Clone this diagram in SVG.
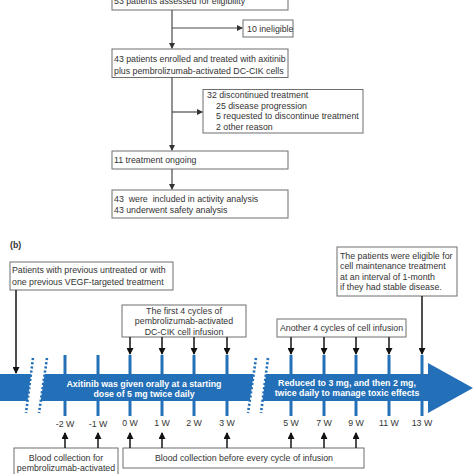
<svg xmlns="http://www.w3.org/2000/svg" width="474" height="474" viewBox="0 0 474 474">
<style>
text{font-family:"Liberation Sans",Arial,sans-serif;font-size:8.8px;fill:#333;white-space:pre}
.box{fill:#fff;stroke:#6e6e6e;stroke-width:1}
.ln{fill:none;stroke:#4a4a4a;stroke-width:1.2}
.bk{fill:none;stroke:#222;stroke-width:1.6}
.c{text-anchor:middle}
.w{fill:#fff;font-weight:bold}
.tick{stroke:#2470b8;stroke-width:3}
.dot{stroke:#2470b8;stroke-width:2.6;stroke-dasharray:2.2 2}
.bar{fill:#2470b8}
</style>
<defs>
<marker id="ah" markerWidth="6" markerHeight="6" refX="5" refY="3" orient="auto" markerUnits="userSpaceOnUse">
<path d="M0,0 L6,3 L0,6 z" fill="#333"/>
</marker>
<marker id="ak" markerWidth="7" markerHeight="7" refX="6" refY="3.5" orient="auto" markerUnits="userSpaceOnUse">
<path d="M0,0 L7,3.5 L0,7 z" fill="#111"/>
</marker>
</defs>

<!-- (a) flowchart -->
<g id="n-assessed"><rect class="box" x="112" y="-10" width="176" height="20"/><text x="114" y="4">53 patients assessed for eligibility</text></g>
<g id="n-ineligible"><rect class="box" x="243" y="20" width="50" height="17"/><text x="247" y="31.5">10 ineligible</text></g>
<g id="n-enrolled"><rect class="box" x="112" y="49" width="176" height="28.5"/><text x="114" y="61.5">43 patients enrolled and treated with axitinib</text><text x="114" y="73.5">plus pembrolizumab-activated DC-CIK cells</text></g>
<g id="n-discontinued"><rect class="box" x="203" y="89.5" width="160" height="43.5"/><text x="207" y="98">32 discontinued treatment</text><text x="216" y="108.5">25 disease progression</text><text x="216" y="119">5 requested to discontinue treatment</text><text x="216" y="129.5">2 other reason</text></g>
<g id="n-ongoing"><rect class="box" x="112" y="151" width="176" height="18"/><text x="114" y="162.5">11 treatment ongoing</text></g>
<g id="n-analysis"><rect class="box" x="112" y="190" width="176" height="28"/><text x="114" y="202" xml:space="preserve">43  were  included in activity analysis</text><text x="114" y="213">43 underwent safety analysis</text></g>

<!-- (b) timeline -->
<text x="10" y="248" style="font-weight:bold">(b)</text>
<g id="n-patients"><rect class="box" x="10" y="262" width="163" height="28"/><text x="12" y="273">Patients with previous untreated or with</text><text x="12" y="284.5">one previous VEGF-targeted treatment</text></g>
<g id="n-first4"><rect class="box" x="122" y="305" width="124" height="32"/><text class="c" x="184" y="313.5">The first 4 cycles of</text><text class="c" x="184" y="324">pembrolizumab-activated</text><text class="c" x="184" y="334.5">DC-CIK cell infusion</text></g>
<g id="n-another4"><rect class="box" x="277" y="319" width="129" height="18"/><text class="c" x="341.5" y="330.5">Another 4 cycles of cell infusion</text></g>
<g id="n-maint"><rect class="box" x="337" y="247" width="120" height="49"/><text x="340" y="258.5">The patients were eligible for</text><text x="340" y="269">cell maintenance treatment</text><text x="340" y="279.5">at an interval of 1-month</text><text x="340" y="290">if they had stable disease.</text></g>
<g id="n-blood1"><rect class="box" x="14" y="448" width="104" height="40"/><text class="c" x="66" y="461">Blood collection for</text><text class="c" x="66" y="471">pembrolizumab-activated</text></g>
<g id="n-blood2"><rect class="box" x="123" y="448" width="241" height="20"/><text class="c" x="244" y="461">Blood collection before every cycle of infusion</text></g>

<g id="bar">
<polygon class="bar" points="0,374 31,374 27.5,401 0,401"/>
<polygon class="bar" points="44.7,374 253.7,374 249.7,401 40.7,401"/>
<polygon class="bar" points="266,374 428,374 428,363 473,388 428,413 428,401 262.5,401"/>
<line class="dot" x1="33" y1="358" x2="26" y2="413"/>
<line class="dot" x1="47" y1="358" x2="39" y2="413"/>
<line class="dot" x1="256" y1="358" x2="248" y2="413"/>
<line class="dot" x1="268" y1="358" x2="261" y2="413"/>
<g class="tick">
<line x1="65" y1="355" x2="65" y2="416"/><line x1="98" y1="355" x2="98" y2="416"/><line x1="130" y1="355" x2="130" y2="416"/><line x1="162" y1="355" x2="162" y2="416"/><line x1="194" y1="355" x2="194" y2="416"/><line x1="227" y1="355" x2="227" y2="416"/><line x1="291" y1="355" x2="291" y2="416"/><line x1="324" y1="355" x2="324" y2="416"/><line x1="356" y1="355" x2="356" y2="416"/><line x1="389" y1="355" x2="389" y2="416"/><line x1="422" y1="355" x2="422" y2="416"/>
</g>
<text class="c w" x="144" y="386.5">Axitinib was given orally at a starting</text>
<text class="c w" x="144" y="396.5">dose of 5 mg twice daily</text>
<text class="c w" x="347" y="385.5">Reduced to 3 mg, and then 2 mg,</text>
<text class="c w" x="347" y="395.5">twice daily to manage toxic effects</text>
</g>
<g id="labels">
<text class="c" x="65" y="427">-2 W</text><text class="c" x="98" y="427">-1 W</text><text class="c" x="130" y="426">0 W</text><text class="c" x="162" y="426">1 W</text><text class="c" x="194" y="426">2 W</text><text class="c" x="227" y="426">3 W</text><text class="c" x="291" y="426">5 W</text><text class="c" x="324" y="426">7 W</text><text class="c" x="356" y="426">9 W</text><text class="c" x="389" y="426">11 W</text><text class="c" x="422" y="426">13 W</text>
</g>

<g id="connectors">
<path class="ln" d="M172,10 V48" marker-end="url(#ah)"/>
<path class="ln" d="M172,28 H242" marker-end="url(#ah)"/>
<path class="ln" d="M172,77.5 V150" marker-end="url(#ah)"/>
<path class="ln" d="M172,112 H202" marker-end="url(#ah)"/>
<path class="ln" d="M172,169 V189" marker-end="url(#ah)"/>
<path class="bk" d="M16,290 V373" marker-end="url(#ak)"/>
<path class="bk" d="M130,337 V354" marker-end="url(#ak)"/>
<path class="bk" d="M162,337 V354" marker-end="url(#ak)"/>
<path class="bk" d="M194,337 V354" marker-end="url(#ak)"/>
<path class="bk" d="M227,337 V354" marker-end="url(#ak)"/>
<path class="bk" d="M291,337 V354" marker-end="url(#ak)"/>
<path class="bk" d="M324,337 V354" marker-end="url(#ak)"/>
<path class="bk" d="M356,337 V354" marker-end="url(#ak)"/>
<path class="bk" d="M389,337 V354" marker-end="url(#ak)"/>
<path class="bk" d="M422,296 V354" marker-end="url(#ak)"/>
<path class="bk" d="M65,448 V433" marker-end="url(#ak)"/>
<path class="bk" d="M98,448 V433" marker-end="url(#ak)"/>
<path class="bk" d="M130,448 V433" marker-end="url(#ak)"/>
<path class="bk" d="M162,448 V433" marker-end="url(#ak)"/>
<path class="bk" d="M227,448 V433" marker-end="url(#ak)"/>
<path class="bk" d="M291,448 V433" marker-end="url(#ak)"/>
<path class="bk" d="M324,448 V433" marker-end="url(#ak)"/>
<path class="bk" d="M356,448 V433" marker-end="url(#ak)"/>
</g>
</svg>
